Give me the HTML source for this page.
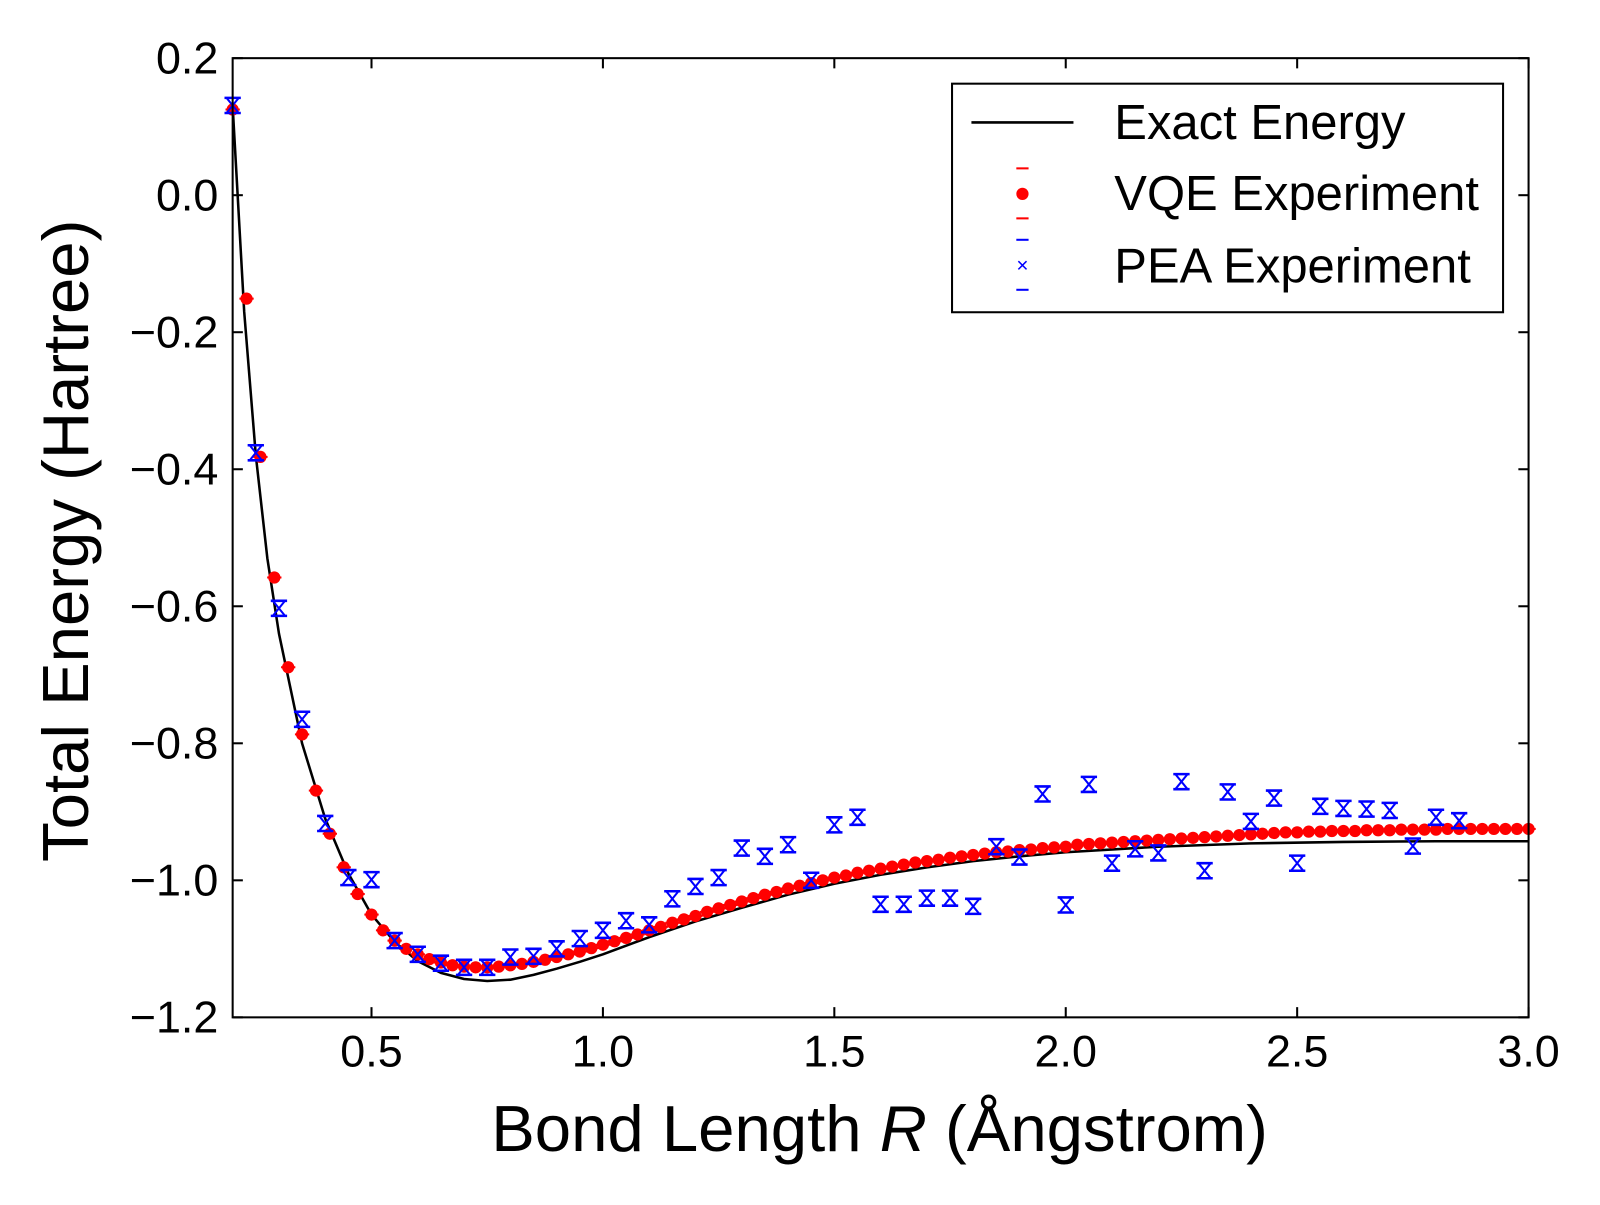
<!DOCTYPE html>
<html><head><meta charset="utf-8"><style>
body{margin:0;background:#fff;}
svg text{font-family:"Liberation Sans",sans-serif;}
</style></head><body>
<svg id="chart" width="1600" height="1200" viewBox="0 0 1568 1176" xmlns="http://www.w3.org/2000/svg"></svg>
<script>
const exactR=[0.2,0.225,0.25,0.275,0.3,0.35,0.4,0.45,0.5,0.55,0.6,0.65,0.7,0.75,0.8,0.85,0.9,0.95,1.0,1.1,1.2,1.3,1.4,1.5,1.6,1.7,1.8,1.9,2.0,2.2,2.4,2.6,2.8,3.0];
const exactE=[0.13,-0.17,-0.38,-0.53,-0.64,-0.80,-0.91,-0.99,-1.05,-1.09,-1.118,-1.135,-1.144,-1.147,-1.145,-1.138,-1.129,-1.119,-1.108,-1.083,-1.060,-1.040,-1.021,-1.005,-0.992,-0.981,-0.972,-0.965,-0.959,-0.951,-0.946,-0.944,-0.943,-0.943];
const vqeR=[0.2,0.23,0.26,0.29,0.32,0.35,0.38,0.41,0.44,0.47,0.5,
0.525,0.55,0.575,0.6,0.625,0.65,0.675,0.7,0.725,0.75,0.775,0.8,0.825,0.85,0.875,0.9,0.925,0.95,0.975,1.0,
1.025,1.05,1.075,1.1,1.125,1.15,1.175,1.2,1.225,1.25,1.275,1.3,1.325,1.35,1.375,1.4,1.425,1.45,1.475,1.5,
1.525,1.55,1.575,1.6,1.625,1.65,1.675,1.7,1.725,1.75,1.775,1.8,1.825,1.85,1.875,1.9,1.925,1.95,1.975,2.0,
2.025,2.05,2.075,2.1,2.125,2.15,2.175,2.2,2.225,2.25,2.275,2.3,2.325,2.35,2.375,2.4,2.425,2.45,2.475,2.5,
2.525,2.55,2.575,2.6,2.625,2.65,2.675,2.7,2.725,2.75,2.775,2.8,2.825,2.85,2.875,2.9,2.925,2.95,2.975,3.0];
const vqeE=[0.125,-0.151,-0.382,-0.558,-0.689,-0.787,-0.869,-0.932,-0.981,-1.02,-1.05,
-1.073,-1.088,-1.100,-1.108,-1.115,-1.120,-1.124,-1.126,-1.127,-1.127,-1.126,-1.124,-1.122,-1.119,-1.116,-1.112,-1.108,-1.104,-1.099,-1.094,
-1.089,-1.084,-1.079,-1.073,-1.068,-1.062,-1.057,-1.052,-1.046,-1.041,-1.036,-1.031,-1.026,-1.021,-1.017,-1.012,-1.008,-1.004,-1.000,-0.996,
-0.993,-0.989,-0.986,-0.983,-0.980,-0.977,-0.974,-0.972,-0.970,-0.967,-0.965,-0.963,-0.961,-0.959,-0.958,-0.956,-0.955,-0.953,-0.952,-0.951,
-0.948,-0.947,-0.946,-0.945,-0.944,-0.943,-0.942,-0.941,-0.940,-0.939,-0.938,-0.937,-0.936,-0.935,-0.934,-0.933,-0.932,-0.931,-0.930,-0.930,
-0.929,-0.929,-0.928,-0.928,-0.928,-0.927,-0.927,-0.927,-0.926,-0.926,-0.926,-0.926,-0.925,-0.925,-0.925,-0.925,-0.925,-0.925,-0.925,-0.925];
const peaR=[0.2,0.25,0.3,0.35,0.4,0.45,0.5,0.55,0.6,0.65,0.7,0.75,0.8,0.85,0.9,0.95,1.0,1.05,1.1,1.15,1.2,1.25,1.3,1.35,1.4,1.45,1.5,1.55,1.6,1.65,1.7,1.75,1.8,1.85,1.9,1.95,2.0,2.05,2.1,2.15,2.2,2.25,2.3,2.35,2.4,2.45,2.5,2.55,2.6,2.65,2.7,2.75,2.8,2.85];
const peaE=[0.131,-0.376,-0.603,-0.765,-0.917,-0.996,-0.999,-1.088,-1.108,-1.121,-1.127,-1.127,-1.112,-1.111,-1.100,-1.085,-1.073,-1.059,-1.065,-1.027,-1.009,-0.996,-0.953,-0.965,-0.948,-1.000,-0.919,-0.908,-1.035,-1.035,-1.026,-1.026,-1.038,-0.951,-0.966,-0.874,-1.036,-0.860,-0.975,-0.954,-0.960,-0.856,-0.986,-0.871,-0.914,-0.880,-0.975,-0.892,-0.895,-0.896,-0.898,-0.950,-0.908,-0.913];
const peaErr=0.011;
const xTicks=[0.5,1.0,1.5,2.0,2.5,3.0];
const yTicks=[0.2,0.0,-0.2,-0.4,-0.6,-0.8,-1.0,-1.2];

const L=228,R=1498,T=57,B=997;
const X=v=>L+(v-0.2)/2.8*(R-L);
const Y=v=>T+(0.2-v)/1.4*(B-T);
const svg=document.getElementById('chart');
const NS='http://www.w3.org/2000/svg';
function mk(tag,attrs,parent){const e=document.createElementNS(NS,tag);for(const k in attrs)e.setAttribute(k,attrs[k]);(parent||svg).appendChild(e);return e;}

const clip=mk('clipPath',{id:'pc'});mk('rect',{x:L,y:T,width:R-L,height:B-T},clip);
let d='';exactR.forEach((r,i)=>{d+=(i?'L':'M')+X(r).toFixed(1)+','+Y(exactE[i]).toFixed(1);});
const line=mk('path',{d:d,fill:'none',stroke:'#000','stroke-width':2.5,'stroke-linejoin':'round','clip-path':'url(#pc)'});


vqeR.forEach((r,i)=>{
 const c=mk('circle',{cx:X(r),cy:Y(vqeE[i]),r:6,fill:'#ff0000'});
 
 
 mk('line',{x1:X(r)-7,x2:X(r)+7,y1:Y(vqeE[i]),y2:Y(vqeE[i]),stroke:'#ff0000','stroke-width':2});
});
peaR.forEach((r,i)=>{
 const g=mk('g',{stroke:'#0000ff','stroke-width':2.5,fill:'none'});
 
 
 const x=X(r),y=Y(peaE[i]),yt=Y(peaE[i]+peaErr),yb=Y(peaE[i]-peaErr);
 mk('line',{x1:x-8,x2:x+8,y1:yt,y2:yt},g);
 mk('line',{x1:x-8,x2:x+8,y1:yb,y2:yb},g);
 mk('line',{x1:x-6,x2:x+6,y1:yt,y2:yb,'stroke-width':2},g);
 mk('line',{x1:x-6,x2:x+6,y1:yb,y2:yt,'stroke-width':2},g);
});
const fr=mk('rect',{x:L,y:T,width:R-L,height:B-T,fill:'none',stroke:'#000','stroke-width':2});


xTicks.forEach(v=>{
 mk('line',{x1:X(v),x2:X(v),y1:B,y2:B-10,stroke:'#000','stroke-width':2});
 mk('line',{x1:X(v),x2:X(v),y1:T,y2:T+10,stroke:'#000','stroke-width':2});
 const t=mk('text',{x:X(v),y:B+48,'font-size':44,'text-anchor':'middle'});t.textContent=v.toFixed(1);
 
 
});
yTicks.forEach(v=>{
 mk('line',{x1:L,x2:L+10,y1:Y(v),y2:Y(v),stroke:'#000','stroke-width':2});
 mk('line',{x1:R,x2:R-10,y1:Y(v),y2:Y(v),stroke:'#000','stroke-width':2});
 const t=mk('text',{x:L-14,y:Y(v)+15,'font-size':44,'text-anchor':'end'});t.textContent=(v<0?'\u2212':'')+Math.abs(v).toFixed(1);
 
 
});
const xt=mk('text',{x:862,y:1128,'font-size':64,'text-anchor':'middle'});
xt.innerHTML='Bond Length <tspan font-style="italic">R</tspan> (Ångstrom)';


const yt=mk('text',{x:0,y:0,'font-size':64,'text-anchor':'middle',transform:'translate(86,530) rotate(-90)'});
yt.textContent='Total Energy (Hartree)';


const lg=mk('g',{});


mk('rect',{x:933,y:82,width:540,height:224,fill:'#fff',stroke:'#000','stroke-width':2},lg);
mk('line',{x1:952,x2:1052,y1:120,y2:120,stroke:'#000','stroke-width':2.5},lg);
mk('line',{x1:996,x2:1008,y1:165,y2:165,stroke:'#ff0000','stroke-width':2},lg);
mk('circle',{cx:1002,cy:190,r:6,fill:'#ff0000'},lg);
mk('line',{x1:996,x2:1008,y1:214,y2:214,stroke:'#ff0000','stroke-width':2},lg);
mk('line',{x1:996,x2:1008,y1:235,y2:235,stroke:'#0000ff','stroke-width':2},lg);
mk('line',{x1:998,x2:1006,y1:256,y2:264,stroke:'#0000ff','stroke-width':1.5},lg);
mk('line',{x1:998,x2:1006,y1:264,y2:256,stroke:'#0000ff','stroke-width':1.5},lg);
mk('line',{x1:996,x2:1008,y1:284,y2:284,stroke:'#0000ff','stroke-width':2},lg);
[['Exact Energy',136],['VQE Experiment',206],['PEA Experiment',277]].forEach(([s,y])=>{
 const t=mk('text',{x:1092,y:y,'font-size':48},lg);t.textContent=s;
 
 
});
</script>
</body></html>
